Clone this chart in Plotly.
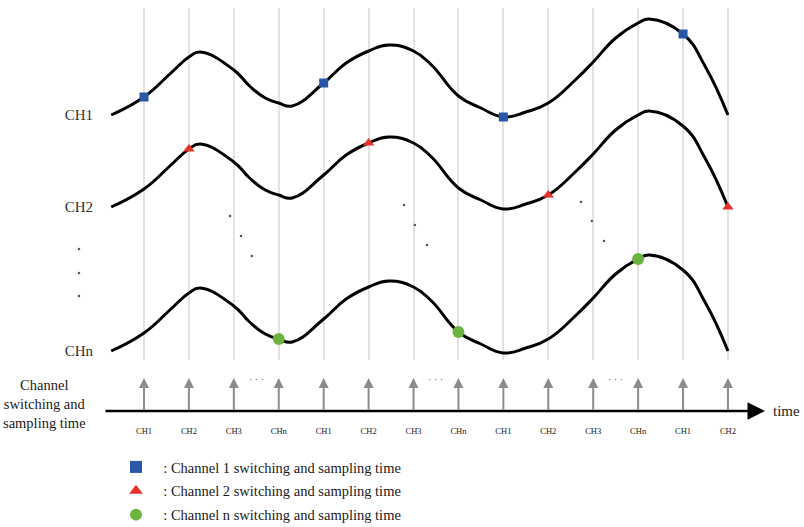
import plotly.graph_objects as go

# ---------------- data ----------------
# sampling slots (time axis positions of the switching instants)
slots = list(range(1, 15))
slot_labels = ["CH1", "CH2", "CH3", "CHn", "CH1", "CH2", "CH3", "CHn",
               "CH1", "CH2", "CH3", "CHn", "CH1", "CH2"]

# common analog waveform (time in slot units, amplitude)
wave_t = [0.27, 1, 1.6, 2, 2.25, 3, 3.35, 3.7, 4, 4.3, 5, 5.5, 6, 6.45, 7, 7.4,
          8, 8.5, 9, 9.5, 10, 10.6, 11, 11.5, 12, 12.25, 13, 13.5, 14]
wave_a = [0, 18, 42, 58, 63, 45, 29, 17, 12, 9, 32, 52, 64, 70, 64, 50,
          19, 7, -2, 3, 12, 35, 53, 77, 92, 96, 81, 48, 0]

channel_names = ["CH1", "CH2", "CHn"]
channel_base = [412, 320, 176]

# sampling instants per channel
ch1_samples = [1, 5, 9, 13]
ch2_samples = [2, 6, 10, 14]
chn_samples = [4, 8, 12]

legend_names = [": Channel 1 switching and sampling time",
                ": Channel 2 switching and sampling time",
                ": Channel n switching and sampling time"]

# ellipsis dots (t, y)
vdots_t = [-0.447, -0.447, -0.447]
vdots_y = [278, 254, 231]
ddots_t = [2.915, 3.16, 3.40, 6.79, 7.03, 7.30, 10.73, 10.97, 11.24]
ddots_y = [311, 291, 271, 322, 302, 282, 325, 306, 286]
gap_dots_t = [3.5, 7.5, 11.5]

# ---------------- figure ----------------
W, H = 804, 527
SP = 44.92                   # pixels per slot
FONT = "Liberation Serif, Times New Roman, serif"
amp = dict(zip(wave_t, wave_a))


def px(x):   # page x -> paper
    return x / W


def py(y):   # page y -> paper
    return 1 - y / H


def slot(x):  # page x -> slot units
    return 1 + (x - 144) / SP


fig = go.Figure()

for name, base in zip(channel_names, channel_base):
    fig.add_trace(go.Scatter(
        x=wave_t, y=[base + a for a in wave_a], mode="lines",
        line=dict(color="black", width=3, shape="spline", smoothing=1.3),
        showlegend=False, hoverinfo="skip"))

marker_specs = [
    (ch1_samples, channel_base[0], "square", "#2a56a6", 9),
    (ch2_samples, channel_base[1], "triangle-up", "#e5322a", 10),
    (chn_samples, channel_base[2], "circle", "#6bb33f", 12),
]
for i, (samp, base, sym, col, size) in enumerate(marker_specs):
    fig.add_trace(go.Scatter(
        x=samp, y=[base + amp[s] for s in samp], mode="markers",
        marker=dict(symbol=sym, color=col, size=size),
        name="\u00a0\u00a0" + legend_names[i], legendgroup=f"g{i}",
        showlegend=True, hoverinfo="skip"))

fig.add_trace(go.Scatter(
    x=vdots_t + ddots_t, y=vdots_y + ddots_y, mode="markers",
    marker=dict(color="#555555", size=2.5), showlegend=False, hoverinfo="skip"))

# dummy trace so the bottom time axis exists
fig.add_trace(go.Scatter(x=slots, y=[None] * len(slots), xaxis="x2", yaxis="y",
                         mode="markers", showlegend=False, hoverinfo="skip"))

x0, x1 = slot(0), slot(W)

fig.update_layout(
    width=W, height=H,
    margin=dict(l=0, r=0, t=0, b=0, pad=0, autoexpand=False),
    paper_bgcolor="white", plot_bgcolor="white",
    font=dict(family=FONT, color="#333333"),
    xaxis=dict(range=[x0, x1], domain=[0, 1], tickvals=slots, showgrid=True,
               gridcolor="#e2e2e2", gridwidth=1.5, showticklabels=False,
               zeroline=False, showline=False, ticks=""),
    xaxis2=dict(range=[x0, x1], overlaying="x", anchor="free",
                position=py(411), side="bottom", tickvals=slots,
                ticktext=slot_labels, showgrid=False, zeroline=False,
                showline=False, ticks="outside", ticklen=12,
                tickcolor="rgba(0,0,0,0)",
                tickfont=dict(family=FONT, size=8.5, color="#222222")),
    yaxis=dict(domain=[py(360), py(8)], range=[167, 519],
               anchor="free", position=px(97), tickvals=channel_base,
               ticktext=channel_names, showgrid=False, zeroline=False,
               showline=False, ticks="outside", ticklen=1,
               tickcolor="rgba(0,0,0,0)",
               tickfont=dict(family=FONT, size=15, color="#333333")),
    legend=dict(x=px(116), y=py(451), xanchor="left", yanchor="top",
                font=dict(family=FONT, size=14.5, color="#1a1a1a"),
                itemsizing="constant", tracegroupgap=2,
                bgcolor="rgba(0,0,0,0)"),
)

ann = []
# upward sampling arrows
for s in slots:
    ann.append(dict(x=s, y=py(378), xref="x", yref="paper", ax=0, ay=33,
                    text="", showarrow=True, arrowhead=2, arrowsize=1,
                    arrowwidth=2, arrowcolor="#8c8c8c"))
# time axis arrow
ann.append(dict(x=slot(765), y=py(411), xref="x", yref="paper",
                ax=104 - 765, ay=0, text="", showarrow=True, arrowhead=2,
                arrowsize=1.4, arrowwidth=2.5, arrowcolor="black"))
for g in gap_dots_t:
    ann.append(dict(x=g, y=py(387), xref="x", yref="paper",
                    text="· · ·", showarrow=False,
                    font=dict(family=FONT, size=10, color="#555555")))
ann.append(dict(x=px(802), y=py(411), xref="paper", yref="paper",
                xanchor="right", yanchor="middle", text="time", showarrow=False,
                font=dict(family=FONT, size=15, color="#222222")))
ann.append(dict(x=px(44), y=py(404), xref="paper", yref="paper",
                xanchor="center", yanchor="middle",
                text="Channel<br>switching and<br>sampling time",
                showarrow=False, align="center",
                font=dict(family=FONT, size=14.5, color="#1a1a1a")))
fig.update_layout(annotations=ann)

fig.write_html("out.html", config={"displayModeBar": False},
               post_script="document.body.style.margin='0px';")
